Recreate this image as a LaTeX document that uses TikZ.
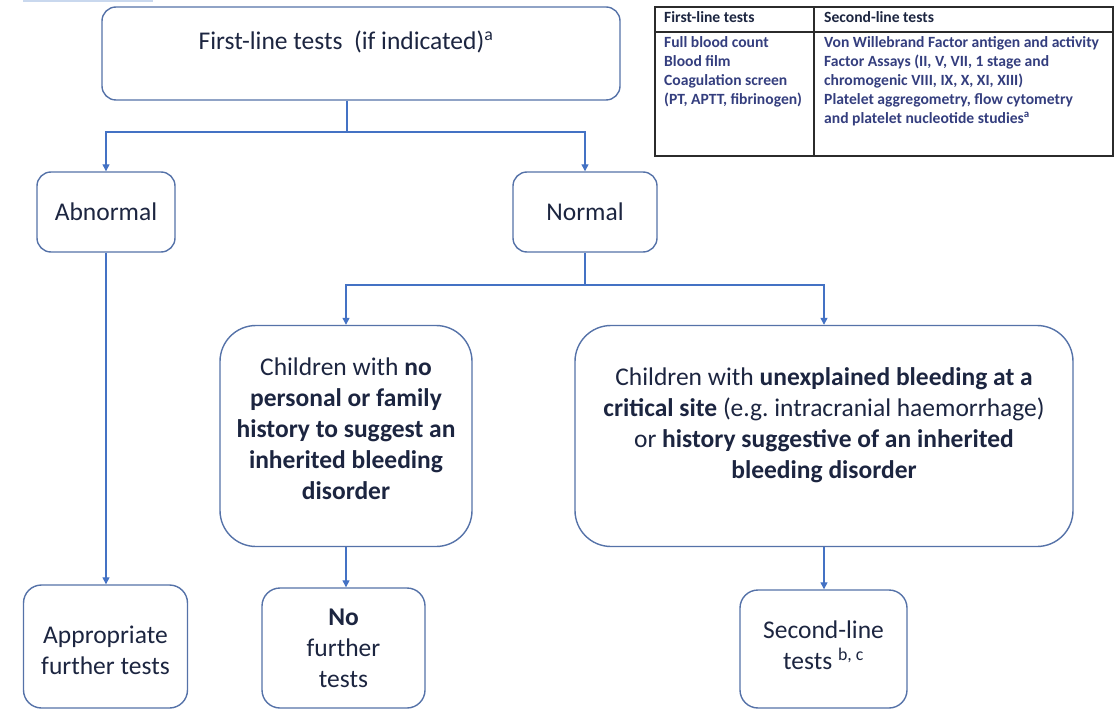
\documentclass[tikz,border=0pt]{standalone}
\usepackage{fontspec}
\setmainfont{Carlito}
\usepackage{xcolor}
\usetikzlibrary{arrows.meta}
\frenchspacing

\definecolor{boxline}{HTML}{5572A8}
\definecolor{arrowline}{HTML}{4472C4}
\definecolor{txt}{HTML}{1C2540}
\definecolor{tabtxt}{HTML}{343E7E}
\definecolor{tabline}{HTML}{2B2B2B}
\definecolor{barblue}{HTML}{C9D8EE}

\tikzset{
    flowbox/.style={draw=boxline, line width=1.4pt, rounded corners=14pt, align=center,
        text=txt, font=\fontsize{25.5}{31}\selectfont, inner sep=0pt},
    bigbox/.style={flowbox, rounded corners=36pt},
    endbox/.style={flowbox, rounded corners=18pt},
    conn/.style={draw=arrowline, line width=1.3pt},
    arr/.style={conn, -{Triangle[width=7pt,length=7pt]}},
    tabcell/.style={anchor=north west, align=left, inner sep=0pt, text=tabtxt,
        font=\fontsize{15.6}{19}\selectfont\bfseries}
}

\begin{document}
\begin{tikzpicture}[x=1pt, y=-1pt]
    \useasboundingbox (0,0) rectangle (1119,711);
    \fill[barblue] (23,0) rectangle (153,2.5);

    % First-line tests
    \node[flowbox, minimum width=518, minimum height=93] (first) at (361,53.5) {};
    \node[text=txt, font=\fontsize{25.5}{31}\selectfont, inner sep=0pt] (firsttxt) at (346,42)
        {First-line tests\ \ (if indicated)\textsuperscript{a}};

    % Table of tests
    \draw[tabline, line width=2pt] (655,7) rectangle (1113,156);
    \draw[tabline, line width=2pt] (655,32) -- (1113,32);
    \draw[tabline, line width=2pt] (814,7) -- (814,156);
    \node[tabcell, text=txt] (h1) at (664,11) {First-line tests};
    \node[tabcell, text=txt] (h2) at (824,11) {Second-line tests};
    \node[tabcell] (c1) at (664,36) {Full blood count\\Blood film\\Coagulation screen\\(PT, APTT, fibrinogen)};
    \node[tabcell] (c2) at (824,36) {Von Willebrand Factor antigen and activity\\Factor Assays (II, V, VII, 1 stage and\\chromogenic VIII, IX, X, XI, XIII)\\Platelet aggregometry, flow cytometry\\and platelet nucleotide studies\textsuperscript{a}};

    % Results
    \node[flowbox, minimum width=138, minimum height=80] (abn) at (106,212) {Abnormal};
    \node[flowbox, minimum width=144, minimum height=80] (norm) at (585,212) {Normal};

    % Children
    \node[bigbox, minimum width=252, minimum height=221] (nohist) at (346,436)
        {Children with \textbf{no}\\\textbf{personal or family}\\\textbf{history to suggest an}\\\textbf{inherited bleeding}\\\textbf{disorder}\\[-17pt]};
    \node[bigbox, minimum width=498, minimum height=221] (unexpl) at (824,436)
        {Children with \textbf{unexplained bleeding at a}\\\textbf{critical site} (e.g. intracranial haemorrhage)\\or \textbf{history suggestive of an inherited}\\\textbf{bleeding disorder}\\[-6pt]};

    % Outcomes
    \node[endbox, minimum width=164, minimum height=123] (approp) at (105.5,646.5) {Appropriate\\further tests\\[-38pt]};
    \node[endbox, minimum width=163, minimum height=120] (nofurther) at (343.5,648) {\textbf{No}\\further\\tests};
    \node[endbox, minimum width=167, minimum height=118] (second) at (823.5,649) {Second-line\\tests \textsuperscript{b, c}\\[-24pt]};

    % Connectors
    \coordinate (split1) at (347,132);
    \coordinate (split2) at (585,285);
    \draw[conn] (first.south -| split1) -- (split1);
    \draw[arr] (split1) -| (abn.north);
    \draw[arr] (split1) -| (norm.north);
    \draw[conn] (norm.south) -- (split2);
    \draw[arr] (split2) -| (nohist.north);
    \draw[arr] (split2) -| (unexpl.north);
    \draw[arr] (abn.south) -- (approp.north -| abn.south);
    \draw[arr] (nohist.south) -- (nofurther.north -| nohist.south);
    \draw[arr] (unexpl.south) -- (second.north -| unexpl.south);
\end{tikzpicture}
\end{document}
